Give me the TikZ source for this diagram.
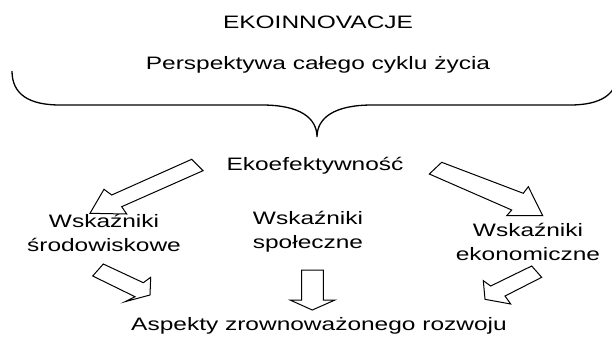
\documentclass[tikz,border=0pt]{standalone}
\usepackage{fontspec}
\setmainfont{Liberation Sans}
\newcommand{\sx}[1]{\scalebox{1.36}[1]{#1}}
\begin{document}
\begin{tikzpicture}[x=1pt,y=-1pt,
  txt/.style={font=\fontsize{18}{24}\selectfont, align=center, inner sep=0pt},
  blk/.style={draw=black, line width=1pt, fill=white, line join=miter},
  bracepath/.style={draw=black, line width=1.3pt}]
\useasboundingbox (0,0) rectangle (612,354);
% texts
\node[txt] (eko) at (318,22) {\sx{EKOINNOVACJE}};
\node[txt] (persp) at (318,65) {\sx{Perspektywa całego cyklu życia}};
\node[txt] (efekt) at (315,166) {\sx{Ekoefektywność}};
\node[txt] (lewy) at (104,233) {\sx{Wskaźniki}\\\sx{środowiskowe}};
\node[txt] (srodek) at (308,232) {\sx{Wskaźniki}\\\sx{społeczne}};
\node[txt] (prawy) at (528,242) {\sx{Wskaźniki}\\\sx{ekonomiczne}};
\node[txt] (aspekty) at (319,326) {\sx{Aspekty zrownoważonego rozwoju}};
% brace
\draw[bracepath] (12,71) .. controls (12,95) and (30,105) .. (60,105) -- (262,105)
  .. controls (300,105) and (317,118) .. (317,137)
  .. controls (317,118) and (334,105) .. (372,105) -- (570,105)
  .. controls (600,105) and (618,95) .. (618,71);
% big arrows
\draw[blk] (191.7,159.3) -- (203,170.7) -- (121.7,206.7) -- (126.7,214) -- (90,213.3) -- (104,189.3) -- (111.7,195) -- cycle;
\draw[blk] (441.7,162.3) -- (523.3,193.3) -- (528.3,186.7) -- (542.7,215.7) -- (506.7,215.7) -- (511.7,210) -- (429.3,174) -- cycle;
% small arrows
\draw[blk] (103.3,264) -- (143.3,282.7) -- (150.7,277.3) -- (150,295) -- (125,301.7) -- (135,296.7) -- (92.7,276) -- cycle;
\draw[blk] (301.7,270) -- (323.3,270) -- (323.3,300) -- (335,300) -- (312.3,310) -- (290,300) -- (301.7,300) -- cycle;
\draw[blk] (531.7,266) -- (541.7,277.3) -- (505,296) -- (510.7,304) -- (485,299.3) -- (483.3,280.7) -- (490.7,286) -- cycle;
\end{tikzpicture}
\end{document}
